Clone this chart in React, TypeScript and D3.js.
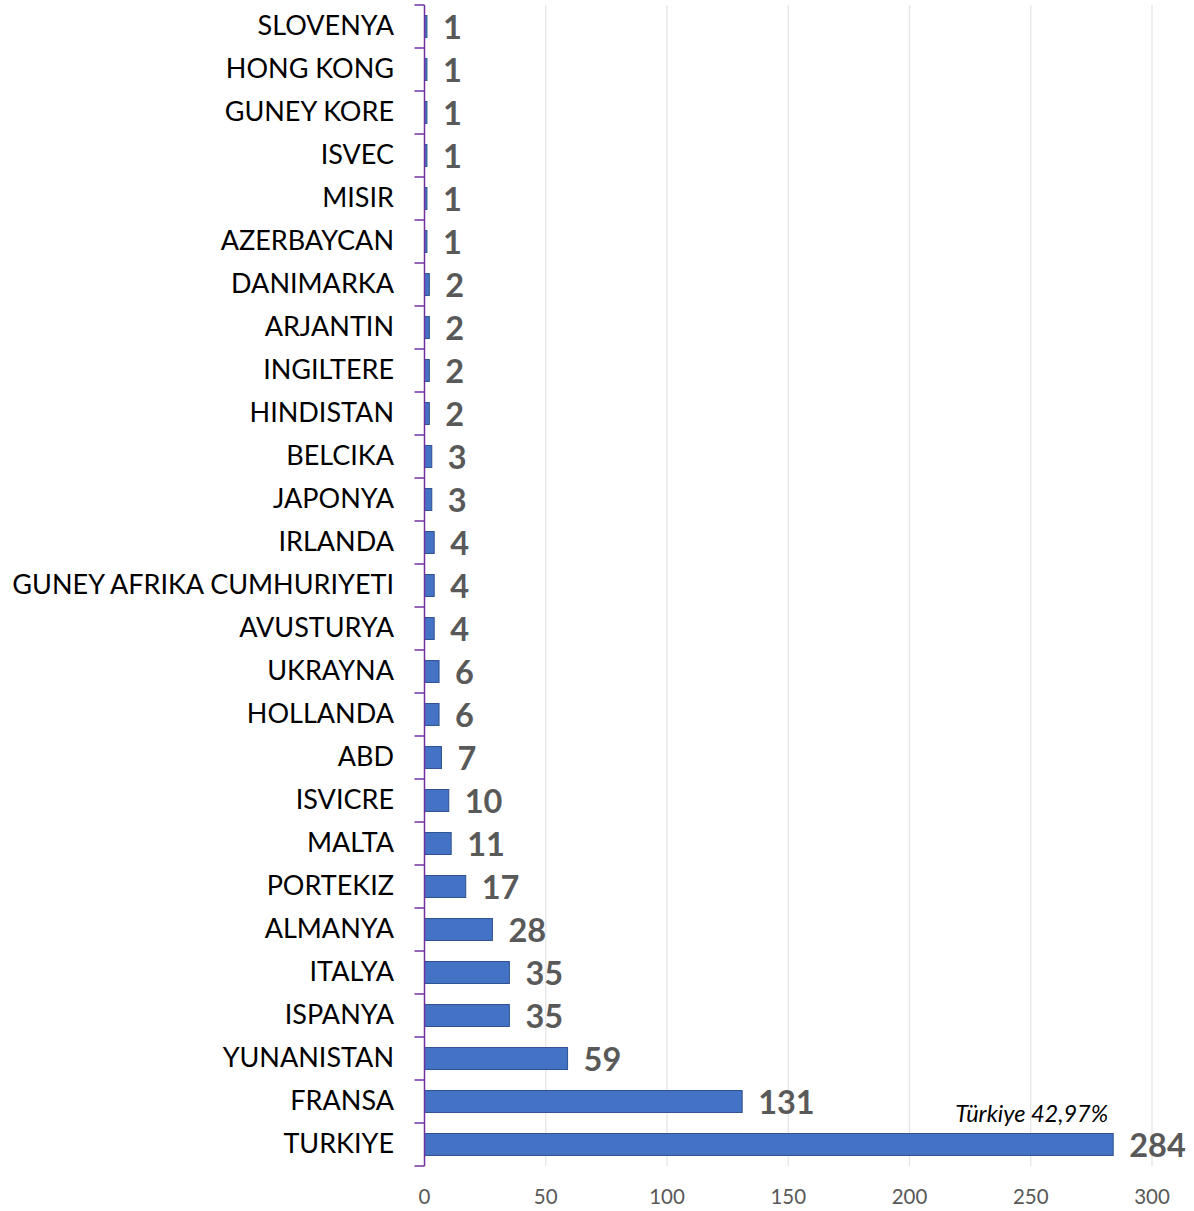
import React from "react";
import * as d3 from "d3";

const categories = [
  "SLOVENYA", "HONG KONG", "GUNEY KORE", "ISVEC", "MISIR", "AZERBAYCAN",
  "DANIMARKA", "ARJANTIN", "INGILTERE", "HINDISTAN", "BELCIKA", "JAPONYA",
  "IRLANDA", "GUNEY AFRIKA CUMHURIYETI", "AVUSTURYA", "UKRAYNA", "HOLLANDA",
  "ABD", "ISVICRE", "MALTA", "PORTEKIZ", "ALMANYA", "ITALYA", "ISPANYA",
  "YUNANISTAN", "FRANSA", "TURKIYE",
];
const values = [1, 1, 1, 1, 1, 1, 2, 2, 2, 2, 3, 3, 4, 4, 4, 6, 6, 7, 10, 11, 17, 28, 35, 35, 59, 131, 284];
const xTicks = [0, 50, 100, 150, 200, 250, 300];
const annotation = "Türkiye 42,97%";

const W = 1194;
const H = 1211;
const left = 424.5;
const right = 1152;
const top = 5;
const bottom = 1166;
const font = "Lato, 'Open Sans', sans-serif";

export default function App() {
  const x = d3.scaleLinear().domain([0, 300]).range([left, right]);
  const y = d3.scaleBand<string>().domain(categories).range([top, bottom]).paddingInner(0.49).paddingOuter(0.245);
  const band = d3.scaleBand<string>().domain(categories).range([top, bottom]);
  const last = categories[categories.length - 1];
  return (
    <svg width={W} height={H} style={{ position: "absolute", left: 0, top: 0 }}>
      <rect x={0} y={0} width={W} height={H} fill="#fff" />
      {xTicks.map((t) => (
        <g key={t}>
          {t > 0 && <line x1={x(t)} x2={x(t)} y1={top} y2={bottom} stroke="#e3e3e3" strokeWidth={1.2} />}
          <text x={x(t)} y={1204} textAnchor="middle" fontFamily={font} fontSize={20.5} fill="#595959">{t}</text>
        </g>
      ))}
      {categories.map((c, i) => (
        <g key={c}>
          <rect
            x={x(0)}
            y={y(c)!}
            width={x(values[i]) - x(0)}
            height={y.bandwidth()}
            fill="#4472C4"
            stroke="#2F528F"
            strokeWidth={1}
          />
          <text
            x={394}
            y={band(c)! + band.bandwidth() / 2 + 8}
            textAnchor="end"
            fontFamily={font}
            fontSize={27}
            fill="#000"
          >{c}</text>
          <text
            x={x(values[i]) + 16}
            y={band(c)! + band.bandwidth() / 2 + 12}
            fontFamily={font}
            fontWeight="bold"
            fontSize={32.5}
            fill="#595959"
          >{values[i]}</text>
        </g>
      ))}
      <line x1={left} x2={left} y1={top} y2={bottom} stroke="#7030A0" strokeWidth={1.5} />
      {d3.range(categories.length + 1).map((i) => {
        const yy = top + i * band.step();
        return <line key={i} x1={left - 10} x2={left} y1={yy} y2={yy} stroke="#7030A0" strokeWidth={1.5} />;
      })}
      <text
        x={x(values[values.length - 1]) - 5}
        y={band(last)! - 1}
        textAnchor="end"
        fontFamily={font}
        fontStyle="italic"
        fontSize={23.5}
        fill="#000"
      >{annotation}</text>
    </svg>
  );
}
